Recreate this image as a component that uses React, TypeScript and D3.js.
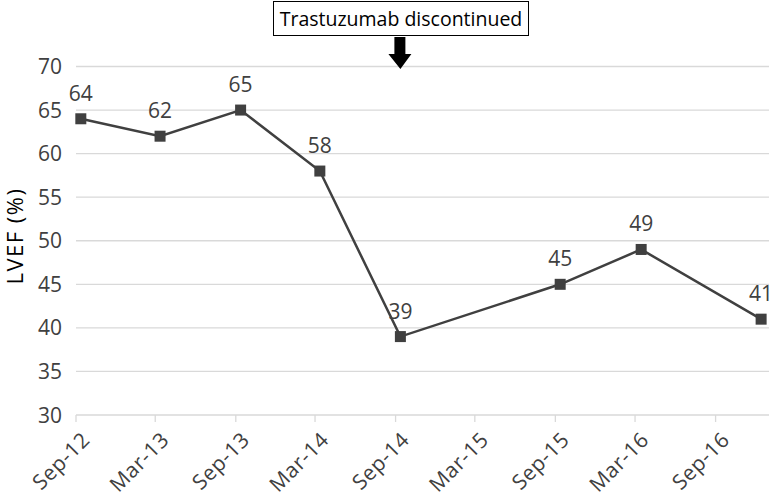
import React from "react";
import * as d3 from "d3";

const pointDates = ["2012-09-12", "2013-03-12", "2013-09-12", "2014-03-12", "2014-09-12", "2015-09-12", "2016-03-15", "2016-12-14"];
const lvefValues = [64, 62, 65, 58, 39, 45, 49, 41];
const tickDates = ["2012-09-01", "2013-03-01", "2013-09-01", "2014-03-01", "2014-09-01", "2015-03-01", "2015-09-01", "2016-03-01", "2016-09-01"];
const tickLabels = ["Sep-12", "Mar-13", "Sep-13", "Mar-14", "Sep-14", "Mar-15", "Sep-15", "Mar-16", "Sep-16"];
const yTicks = [30, 35, 40, 45, 50, 55, 60, 65, 70];
const annotationText = "Trastuzumab discontinued";
const annotationDate = "2014-09-12";
const yTitle = "LVEF (%)";

const W = 775;
const H = 497;
const FONT = "'Open Sans', 'Noto Sans', sans-serif";

export default function App() {
  const parse = (s: string) => new Date(s + "T00:00:00Z");
  const x = d3.scaleUtc().domain([parse("2012-09-01"), parse("2017-01-01")]).range([76, 769]);
  const y = d3.scaleLinear().domain([30, 70]).range([415, 66.5]);
  const data = pointDates.map((d, i) => ({ date: parse(d), v: lvefValues[i] }));
  const line = d3.line<{ date: Date; v: number }>().x((d) => x(d.date)).y((d) => y(d.v));
  const ax = x(parse(annotationDate));
  const m = 11;

  return (
    <svg width={W} height={H} style={{ position: "absolute", left: 0, top: 0, background: "#fff" }} fontFamily={FONT}>
      <rect x={0} y={0} width={W} height={H} fill="#fff" />
      {yTicks.map((t) => (
        <g key={t}>
          <line x1={76} x2={769} y1={y(t)} y2={y(t)} stroke="#d9d9d9" strokeWidth={1.3} />
          <text x={62} y={y(t)} dy="0.36em" textAnchor="end" fontSize={21} fill="#404040">
            {t}
          </text>
        </g>
      ))}
      {tickDates.map((d, i) => {
        const tx = x(parse(d));
        return (
          <g key={d}>
            <line x1={tx} x2={tx} y1={415} y2={422} stroke="#d9d9d9" strokeWidth={1.3} />
            <text
              transform={`translate(${tx + 10},${436}) rotate(-45)`}
              textAnchor="end"
              fontSize={21}
              letterSpacing={0.6}
              fill="#404040"
              dy="0.35em"
            >
              {tickLabels[i]}
            </text>
          </g>
        );
      })}
      <text
        transform={`translate(${15},${236}) rotate(-90)`}
        textAnchor="middle"
        dy="0.35em"
        fontSize={22}
        letterSpacing={1.5}
        fill="#000"
      >
        {yTitle}
      </text>
      <path d={line(data) || ""} fill="none" stroke="#404040" strokeWidth={2.5} />
      {data.map((d, i) => (
        <g key={i}>
          <rect x={x(d.date) - m / 2} y={y(d.v) - m / 2} width={m} height={m} fill="#404040" />
          <text x={x(d.date)} y={y(d.v) - 18} textAnchor="middle" fontSize={21} fill="#404040">
            {d.v}
          </text>
        </g>
      ))}
      <rect x={273.5} y={1.5} width={255} height={34} fill="#fff" stroke="#000" strokeWidth={1} />
      <text x={401} y={26} textAnchor="middle" fontSize={19.5} fill="#000">
        {annotationText}
      </text>
      <path
        d={`M${ax - 6},37 L${ax + 5},37 L${ax + 5},54 L${ax + 11},54 L${ax},69 L${ax - 12},54 L${ax - 6},54 Z`}
        fill="#000"
      />
    </svg>
  );
}
